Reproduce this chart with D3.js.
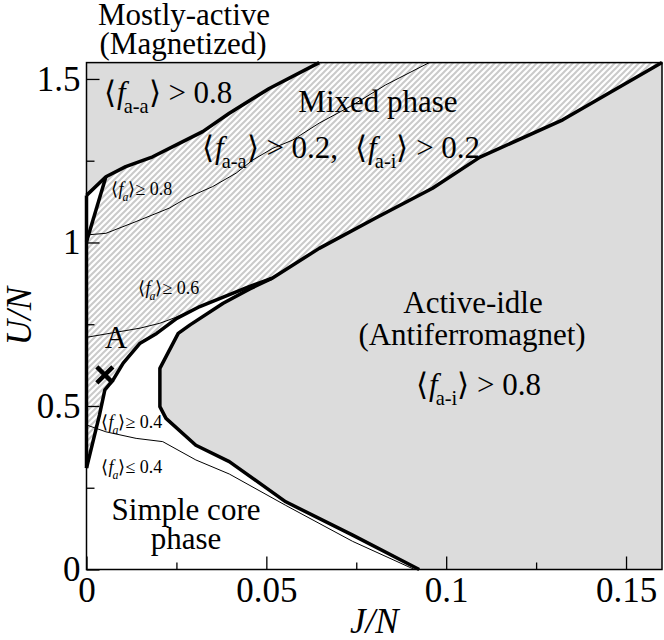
<!DOCTYPE html>
<html>
<head>
<meta charset="utf-8">
<script src="https://cdn.jsdelivr.net/npm/d3@7"></script>
</head>
<body style="margin:0">
<svg id="chart" width="664" height="640"></svg>
<script>
// axis ticks
const jTicks = [0, 0.05, 0.1, 0.15];
const jMinor = [0.025, 0.075, 0.125];
const uTicks = [0, 0.5, 1, 1.5];
const uMinor = [0.25, 0.75, 1.25];

// phase boundaries, [J/N, U/N]
const magnetizedEdge = [[0, 1.144], [0.0054, 1.201], [0.0109, 1.232], [0.0184, 1.262],
    [0.0258, 1.303], [0.0323, 1.339], [0.0397, 1.395], [0.0508, 1.471], [0.0647, 1.55]];
const triangleEdge = [[0, 1.002], [0.0054, 1.201]];
// lower edge of the mixed phase (runs on up to the top right corner)
const mixedLowerEdge = [[0, 0.31], [0.0036, 0.472], [0.0051, 0.549], [0.0074, 0.58],
    [0.0102, 0.631], [0.0149, 0.692], [0.0195, 0.722], [0.0251, 0.768], [0.0315, 0.804],
    [0.0454, 0.866], [0.0515, 0.89], [0.0647, 0.982], [0.0804, 1.075], [0.0962, 1.166],
    [0.1094, 1.261], [0.1324, 1.375], [0.16, 1.55]];
// left edge of the active-idle phase, from the J axis up to where it joins the line above
const antiferroEdge = [[0.0925, 0], [0.074, 0.105], [0.0554, 0.207], [0.0397, 0.33],
    [0.0304, 0.38], [0.0221, 0.462], [0.0204, 0.498], [0.0204, 0.615], [0.0255, 0.722],
    [0.0288, 0.748], [0.038, 0.814], [0.0454, 0.858], [0.0515, 0.89]];

// contours of <f_a>
const fa08 = [[0, 1.023], [0.0054, 1.028], [0.0138, 1.064], [0.023, 1.105], [0.0277, 1.135],
    [0.0351, 1.171], [0.0416, 1.212], [0.0462, 1.252], [0.0518, 1.288], [0.0573, 1.313],
    [0.0647, 1.365], [0.074, 1.42], [0.0832, 1.482], [0.0953, 1.55]];
const fa06 = [[0, 0.71], [0.0149, 0.738], [0.0204, 0.753], [0.0251, 0.772], [0.0315, 0.804]];
const fa04 = [[0, 0.442], [0.0054, 0.421], [0.0138, 0.401], [0.0212, 0.391], [0.0304, 0.335],
    [0.0397, 0.292], [0.0554, 0.196], [0.074, 0.086], [0.0912, 0]];

const pointA = [0.0051, 0.595];

const FONT = "Liberation Serif";

const svg = d3.select("#chart");
const X = d3.scaleLinear().domain([0, 0.16]).range([86.5, 662]);
const Y = d3.scaleLinear().domain([0, 1.55]).range([569.5, 62.6]);
const line = d3.line().x(d => X(d[0])).y(d => Y(d[1]));

const GRAY = "#dcdcdc";

const defs = svg.append("defs");
const pat = defs.append("pattern")
    .attr("id", "hatch")
    .attr("patternUnits", "userSpaceOnUse")
    .attr("width", 6).attr("height", 6);
pat.append("rect").attr("width", 6).attr("height", 6).attr("fill", "#fff");
pat.append("path")
    .attr("d", "M-1,1 L1,-1 M0,6 L6,0 M5,7 L7,5")
    .attr("stroke", "#cacaca")
    .attr("stroke-width", 2);

const plot = svg.append("g");

// mostly-active region
plot.append("path")
    .attr("d", line([...magnetizedEdge, [0, 1.55]]) + "Z")
    .attr("fill", GRAY);

// active-idle region
const joinIdx = mixedLowerEdge.findIndex(p => p[0] === 0.0515);
plot.append("path")
    .attr("d", line([...antiferroEdge, ...mixedLowerEdge.slice(joinIdx + 1), [0.16, 0]]) + "Z")
    .attr("fill", GRAY);

// mixed phase, hatched
plot.append("path")
    .attr("d", line([...triangleEdge, ...magnetizedEdge.slice(1), [0.16, 1.55],
        ...mixedLowerEdge.slice().reverse()]) + "Z")
    .attr("fill", "url(#hatch)");

// thin contours
[fa08, fa06, fa04].forEach(function (pts) {
    plot.append("path")
        .attr("d", line(pts))
        .attr("fill", "none")
        .attr("stroke", "#000")
        .attr("stroke-width", 1);
});

// thick phase boundaries
const thick = [magnetizedEdge, triangleEdge, mixedLowerEdge, antiferroEdge,
    [[0, 0.31], [0, 1.144]]];
thick.forEach(function (pts) {
    plot.append("path")
        .attr("d", line(pts))
        .attr("fill", "none")
        .attr("stroke", "#000")
        .attr("stroke-width", 3.5)
        .attr("stroke-linejoin", "round");
});

// point A
const ax = X(pointA[0]), ay = Y(pointA[1]);
plot.append("path")
    .attr("d", `M${ax - 8},${ay - 8}L${ax + 8},${ay + 8}M${ax - 8},${ay + 8}L${ax + 8},${ay - 8}`)
    .attr("stroke", "#000")
    .attr("stroke-width", 4.5);

// frame
svg.append("rect")
    .attr("x", X(0)).attr("y", Y(1.55))
    .attr("width", X(0.16) - X(0)).attr("height", Y(0) - Y(1.55))
    .attr("fill", "none").attr("stroke", "#000").attr("stroke-width", 1.5);

// axes, ticks pointing inward
svg.append("g").attr("transform", `translate(0,${Y(0)})`)
    .call(d3.axisBottom(X).tickValues(jTicks).tickSize(-13).tickPadding(8)
        .tickFormat(d => String(d)));
svg.append("g").attr("transform", `translate(0,${Y(0)})`)
    .call(d3.axisBottom(X).tickValues(jMinor).tickSize(-7).tickFormat(""));
svg.append("g").attr("transform", `translate(${X(0)},0)`)
    .call(d3.axisLeft(Y).tickValues(uTicks).tickSize(-13).tickPadding(6)
        .tickFormat(d => String(d)));
svg.append("g").attr("transform", `translate(${X(0)},0)`)
    .call(d3.axisLeft(Y).tickValues(uMinor).tickSize(-8).tickFormat(""));
svg.selectAll(".domain").remove();
svg.selectAll("g.tick line").attr("stroke", "#000").attr("stroke-width", 1.3);
svg.selectAll("g.tick text")
    .attr("fill", "#000")
    .style("font-family", FONT)
    .style("font-size", "35px");

svg.append("text")
    .attr("x", (X(0) + X(0.16)) / 2).attr("y", 633)
    .attr("text-anchor", "middle")
    .style("font-family", FONT)
    .style("font-size", "35px").style("font-style", "italic")
    .text("J/N");
svg.append("text")
    .attr("transform", `translate(31,${(Y(0) + Y(1.55)) / 2}) rotate(-90)`)
    .attr("text-anchor", "middle")
    .style("font-family", FONT)
    .style("font-size", "35px").style("font-style", "italic")
    .text("U/N");

// text with <f_sub> parts
function mathLabel(x, y, size, parts) {
    const t = svg.append("text")
        .attr("x", x).attr("y", y)
        .style("font-family", FONT)
        .style("font-size", size + "px");
    let shift = 0;
    parts.forEach(function (p) {
        const s = t.append("tspan").text(p.t);
        const target = p.sub ? size * 0.33 : 0;
        if (target !== shift) { s.attr("dy", target - shift); shift = target; }
        if (p.it) s.style("font-style", "italic");
        if (p.sub) s.style("font-size", (size * 0.66) + "px");
        if (p.dx) s.attr("dx", p.dx);
    });
    return t;
}
function fa(sub, rest, size, lead) {
    return [{ t: "\u27E8", dx: lead || 0 }, { t: "f", it: true, dx: size * 0.03 },
        { t: sub, sub: true, it: sub === "a", dx: -size * 0.06 },
        { t: "\u27E9" }, { t: rest }];
}

function plain(x, y, size, str) {
    svg.append("text").attr("x", x).attr("y", y)
        .attr("text-anchor", "middle")
        .style("font-family", FONT)
        .style("font-size", size + "px")
        .text(str);
}

plain(184, 25, 31, "Mostly-active");
plain(183, 54, 31, "(Magnetized)");
plain(378, 111.5, 31, "Mixed phase");
plain(473, 313, 31, "Active-idle");
plain(472, 345, 31, "(Antiferromagnet)");
plain(186, 520, 31, "Simple core");
plain(186, 549, 31, "phase");
plain(116, 348, 31, "A");

mathLabel(104, 103, 31, fa("a-a", " > 0.8", 31));
mathLabel(202, 158, 31, [...fa("a-a", " > 0.2,", 31), ...fa("a-i", " > 0.2", 31, 17)]);
mathLabel(416, 395, 31, fa("a-i", " > 0.8", 31));

mathLabel(111, 195, 18, fa("a", "\u2265 0.8", 18));
mathLabel(138, 294, 18, fa("a", "\u2265 0.6", 18));
mathLabel(101, 428, 18, fa("a", "\u2265 0.4", 18));
mathLabel(101, 473, 18, fa("a", "\u2264 0.4", 18));
</script>
</body>
</html>
